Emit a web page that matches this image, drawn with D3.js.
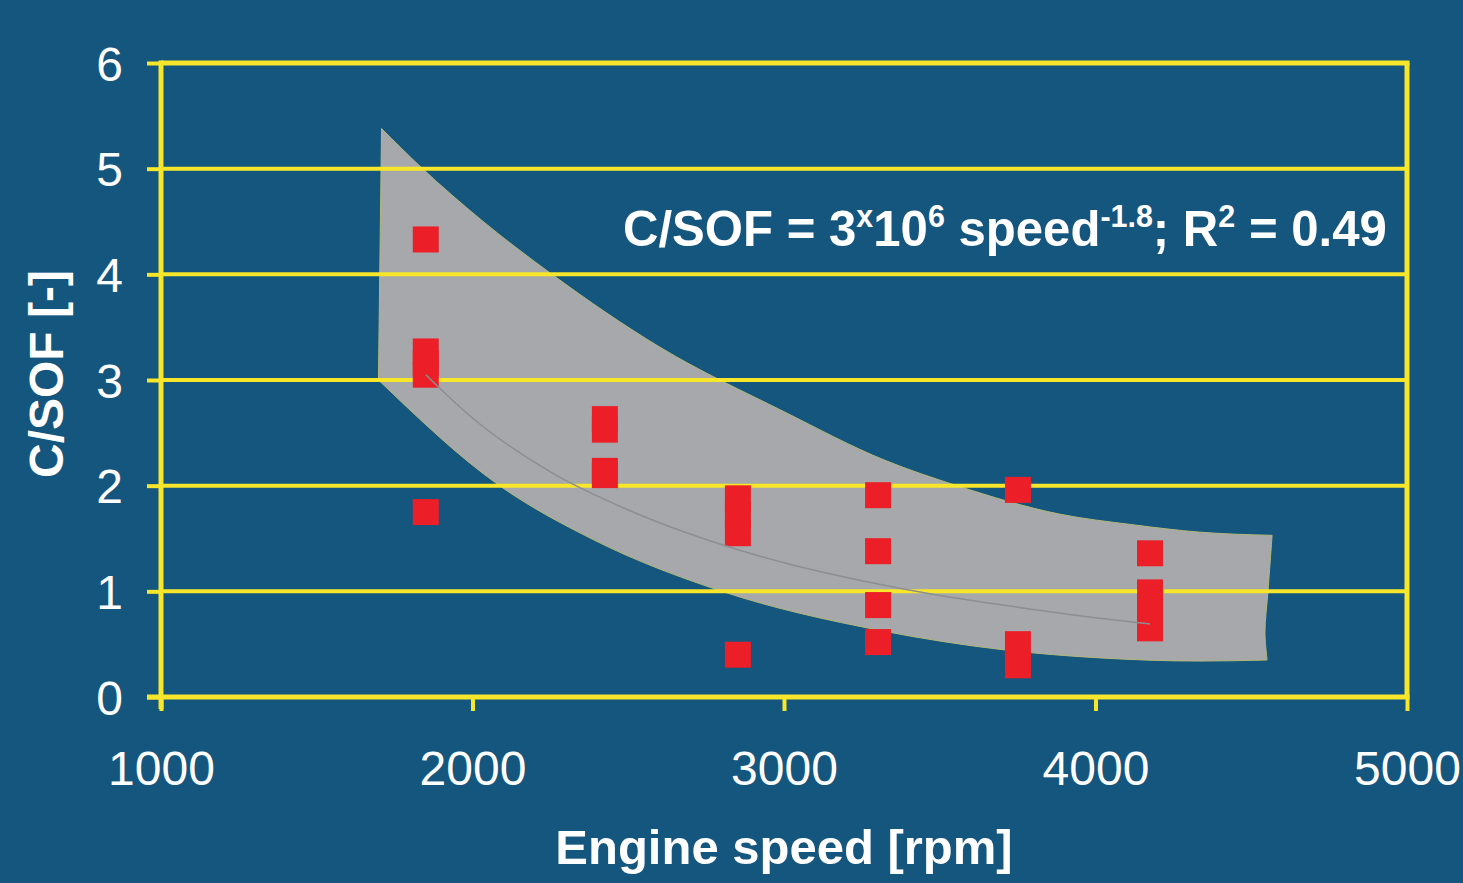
<!DOCTYPE html>
<html>
<head>
<meta charset="utf-8">
<script src="https://cdn.jsdelivr.net/npm/d3@7"></script>
<style>
  html, body { margin: 0; padding: 0; background: #15567f; }
  svg { display: block; }
  text { font-family: "Liberation Sans", Arial, sans-serif; fill: #ffffff; }
</style>
</head>
<body>
<svg id="chart" width="1463" height="883"></svg>
<script>
// ---- data ----
const xTicks = [1000, 2000, 3000, 4000, 5000];
const yTicks = [0, 1, 2, 3, 4, 5, 6];

const pointSpeed = [1850, 1850, 1850, 1850, 1850,
                    2425, 2425, 2425, 2425,
                    2852, 2852, 2852, 2852,
                    3302, 3302, 3302, 3302,
                    3751, 3751, 3751,
                    4175, 4175, 4175, 4175];
const pointValue = [4.33, 3.27, 3.16, 3.05, 1.75,
                    2.63, 2.53, 2.14, 2.10,
                    1.88, 1.72, 1.55, 0.40,
                    1.91, 1.38, 0.87, 0.52,
                    1.96, 0.50, 0.30,
                    1.36, 0.99, 0.82, 0.65];

const trendSpeed = [1850, 2000, 2250, 2500, 2750, 3000, 3250, 3500, 3750, 4000, 4175];
const trendValue = [3.05, 2.64, 2.13, 1.77, 1.49, 1.27, 1.10, 0.96, 0.85, 0.75, 0.69];

// scatter band outline
const bandUpperSpeed = [1708, 1836, 2030, 2255, 2602, 3000, 3324, 3555, 3886, 4120, 4335, 4567];
const bandUpperValue = [5.38, 5.01, 4.51, 4.00, 3.31, 2.70, 2.24, 2.00, 1.73, 1.63, 1.56, 1.53];
const bandRightSpeed = [4567, 4554, 4544, 4551];
const bandRightValue = [1.53, 1.01, 0.61, 0.35];
const bandLowerSpeed = [4551, 4335, 4014, 3709, 3308, 2801, 2387, 2082, 1698];
const bandLowerValue = [0.35, 0.34, 0.37, 0.445, 0.63, 1.00, 1.49, 2.01, 3.00];
const bandLeftSpeed = [1698, 1708];
const bandLeftValue = [3.00, 5.38];

const xTitle = "Engine speed [rpm]";
const yTitle = "C/SOF [-]";

(function () {
const svg = d3.select("#chart");
const W = 1463, H = 883;
const pL = 161, pR = 1407, pT = 63, pB = 697;

const colors = {
  bg: "#15567f",
  yellow: "#f7e62a",
  red: "#ec1f28",
  band: "#a7a8ab",
  bandStroke: "#b3b878",
  trend: "#8c8e92"
};

svg.append("rect").attr("width", W).attr("height", H).attr("fill", colors.bg);

const x = d3.scaleLinear().domain([1000, 5000]).range([pL, pR]);
const y = d3.scaleLinear().domain([0, 6]).range([pB, pT]);

// band
function seg(sx, sv, curve) {
  const pts = sx.map((s, i) => [x(s), y(sv[i])]);
  return d3.line().curve(curve)(pts);
}
const bandPath = seg(bandUpperSpeed, bandUpperValue, d3.curveMonotoneX) +
  seg(bandRightSpeed, bandRightValue, d3.curveCatmullRom.alpha(0.5)).replace(/^M/, "L") +
  seg(bandLowerSpeed, bandLowerValue, d3.curveMonotoneX).replace(/^M/, "L") +
  seg(bandLeftSpeed, bandLeftValue, d3.curveLinear).replace(/^M/, "L") + "Z";
svg.append("path").attr("d", bandPath)
  .attr("fill", colors.band)
  .attr("stroke", colors.bandStroke).attr("stroke-width", 1);

// gridlines
svg.append("g").selectAll("line").data(yTicks.filter(d => d > 0 && d < 6)).join("line")
  .attr("x1", pL).attr("x2", pR)
  .attr("y1", d => y(d)).attr("y2", d => y(d))
  .attr("stroke", colors.yellow).attr("stroke-width", 4);

// frame (top and right)
svg.append("line").attr("x1", pL).attr("x2", pR + 2.5).attr("y1", y(6)).attr("y2", y(6))
  .attr("stroke", colors.yellow).attr("stroke-width", 5);
svg.append("line").attr("x1", pR).attr("x2", pR).attr("y1", y(6)).attr("y2", pB)
  .attr("stroke", colors.yellow).attr("stroke-width", 5);

// axes
const yAxis = d3.axisLeft(y).tickValues(yTicks).tickSize(14).tickSizeOuter(0).tickFormat(d3.format("d"));
const gy = svg.append("g").attr("transform", `translate(${pL},0)`).call(yAxis);
gy.select(".domain").remove();
gy.selectAll(".tick line").attr("stroke", colors.yellow).attr("stroke-width", 4);
gy.selectAll(".tick text").attr("fill", "#fff").attr("font-size", 48)
  .attr("font-family", "Liberation Sans, Arial, sans-serif").attr("x", -38).attr("dy", "0.36em");

const xAxis = d3.axisBottom(x).tickValues(xTicks).tickSize(14).tickSizeOuter(0).tickFormat(d3.format("d"));
const gx = svg.append("g").attr("transform", `translate(0,${pB})`).call(xAxis);
gx.select(".domain").remove();
gx.selectAll(".tick line").attr("stroke", colors.yellow).attr("stroke-width", 4);
gx.selectAll(".tick text").attr("fill", "#fff").attr("font-size", 48)
  .attr("font-family", "Liberation Sans, Arial, sans-serif").attr("y", 88).attr("dy", 0);

// axis lines
svg.append("line").attr("x1", pL).attr("x2", pL).attr("y1", y(6) - 2.5).attr("y2", pB + 12)
  .attr("stroke", colors.yellow).attr("stroke-width", 5);
svg.append("line").attr("x1", pL - 14).attr("x2", pR + 2.5).attr("y1", pB).attr("y2", pB)
  .attr("stroke", colors.yellow).attr("stroke-width", 5);

// markers
const ms = 26;
svg.append("g").selectAll("rect").data(pointSpeed.map((s, i) => [s, pointValue[i]])).join("rect")
  .attr("x", d => x(d[0]) - ms / 2).attr("y", d => y(d[1]) - ms / 2)
  .attr("width", ms).attr("height", ms).attr("fill", colors.red);

// trend line
svg.append("path")
  .attr("d", d3.line().curve(d3.curveMonotoneX)(trendSpeed.map((s, i) => [x(s), y(trendValue[i])])))
  .attr("fill", "none").attr("stroke", colors.trend).attr("stroke-width", 1.5);

// annotation
const ann = svg.append("text").attr("x", 623).attr("y", 246)
  .attr("font-size", 50).attr("font-weight", "bold");
const parts = [
  ["C/SOF = 3", 0], ["x", 1], ["10", 0], ["6", 1], [" speed", 0], ["-1.8", 1],
  ["; R", 0], ["2", 1], [" = 0.49", 0]
];
parts.forEach(([t, sup], i) => {
  const ts = ann.append("tspan").text(t);
  if (sup) ts.attr("font-size", 31).attr("dy", -19);
  else if (i > 0 && parts[i - 1][1]) ts.attr("dy", 19);
});
const bb = ann.node().getBBox();
const targetW = 764;
const sx = targetW / bb.width;
ann.attr("transform", `translate(${623},0) scale(${sx},1) translate(${-623},0)`);

// titles
svg.append("text").attr("x", (pL + pR) / 2).attr("y", 864)
  .attr("text-anchor", "middle").attr("font-size", 49).attr("font-weight", "bold").text(xTitle);
svg.append("text").attr("transform", `translate(63,${(pT + pB) / 2 - 6}) rotate(-90)`)
  .attr("text-anchor", "middle").attr("font-size", 48).attr("font-weight", "bold").text(yTitle);
})();
</script>
</body>
</html>
